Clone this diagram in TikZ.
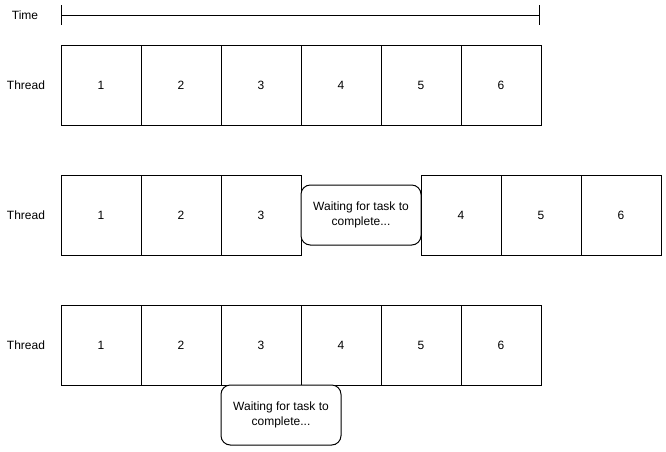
\documentclass[tikz,border=0pt]{standalone}
\usepackage{fontspec}
\setmainfont{Liberation Sans}
\usetikzlibrary{arrows.meta}

\begin{document}
\begin{tikzpicture}[
  x=0.75pt, y=-0.75pt,
  slot/.style={draw=black, fill=white, line width=0.75pt, minimum width=60pt,
               minimum height=60pt, inner sep=0pt, font=\fontsize{9}{11}\selectfont},
  wait/.style={slot, rounded corners=7pt, minimum width=90pt, minimum height=45pt,
               align=center},
  lbl/.style={font=\fontsize{9}{11}\selectfont, inner sep=0pt}
]
\useasboundingbox (0,0) rectangle (666,451);

% time axis
\node[lbl] (time) at (25,15) {Time};
\coordinate (t0) at (61,15);
\coordinate (t1) at (540,15);
\draw[line width=0.75pt, {Bar[width=15pt]}-{Bar[width=15pt]}] (t0) -- (t1);

% row 1
\node[lbl] (th1) at (26,85) {Thread};
\node[slot] (a1) at (101,85) {1};
\node[slot] (a2) at (181,85) {2};
\node[slot] (a3) at (261,85) {3};
\node[slot] (a4) at (341,85) {4};
\node[slot] (a5) at (421,85) {5};
\node[slot] (a6) at (501,85) {6};

% row 2 (blocked)
\node[lbl] (th2) at (26,215) {Thread};
\node[slot] (b1) at (101,215.5) {1};
\node[slot] (b2) at (181,215.5) {2};
\node[slot] (b3) at (261,215.5) {3};
\node[wait] (bw) at (361,215) {Waiting for task to\\complete...};
\node[slot] (b4) at (461,215.5) {4};
\node[slot] (b5) at (541,215.5) {5};
\node[slot] (b6) at (621,215.5) {6};

% row 3 (not blocked)
\node[lbl] (th3) at (26,345) {Thread};
\node[slot] (c1) at (101,345) {1};
\node[slot] (c2) at (181,345) {2};
\node[slot] (c3) at (261,345) {3};
\node[slot] (c4) at (341,345) {4};
\node[slot] (c5) at (421,345) {5};
\node[slot] (c6) at (501,345) {6};
\node[wait] (cw) at (281,415) {Waiting for task to\\complete...};
\end{tikzpicture}
\end{document}
